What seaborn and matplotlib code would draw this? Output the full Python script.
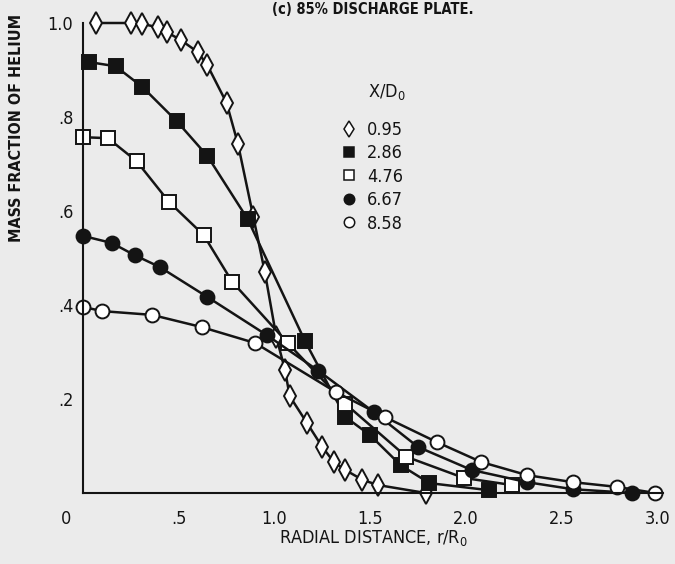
import matplotlib
matplotlib.use("Agg")
import matplotlib.pyplot as plt
from matplotlib.lines import Line2D
import seaborn as sns
import pandas as pd

# ---- data ----
x095 = [0.07, 0.25, 0.31, 0.39, 0.44, 0.51, 0.60, 0.65, 0.75, 0.81, 0.89, 0.95,
        1.01, 1.055, 1.08, 1.17, 1.25, 1.31, 1.37, 1.46, 1.54, 1.79]
y095 = [1.0, 1.0, 0.998, 0.991, 0.98, 0.964, 0.938, 0.91, 0.83, 0.742, 0.587, 0.47,
        0.332, 0.262, 0.206, 0.149, 0.098, 0.066, 0.049, 0.028, 0.017, 0.0]

x286 = [0.03, 0.17, 0.31, 0.49, 0.65, 0.86, 1.16, 1.37, 1.50, 1.66, 1.81, 2.12]
y286 = [0.917, 0.908, 0.864, 0.791, 0.717, 0.583, 0.323, 0.162, 0.123, 0.059, 0.021, 0.006]

x476 = [0.0, 0.13, 0.28, 0.45, 0.63, 0.78, 1.07, 1.37, 1.69, 1.99, 2.24]
y476 = [0.757, 0.755, 0.706, 0.619, 0.549, 0.449, 0.319, 0.19, 0.077, 0.032, 0.017]

x667 = [0.0, 0.15, 0.27, 0.40, 0.65, 0.96, 1.23, 1.52, 1.75, 2.03, 2.32, 2.56, 2.87]
y667 = [0.547, 0.532, 0.506, 0.481, 0.417, 0.336, 0.26, 0.172, 0.098, 0.049, 0.023, 0.008, 0.0]

x858 = [0.0, 0.10, 0.36, 0.62, 0.90, 1.32, 1.58, 1.85, 2.08, 2.32, 2.56, 2.79, 2.99]
y858 = [0.396, 0.387, 0.379, 0.353, 0.319, 0.215, 0.161, 0.108, 0.066, 0.038, 0.023, 0.013, 0.0]

series_labels = ["0.95", "2.86", "4.76", "6.67", "8.58"]
xticks = [0.5, 1.0, 1.5, 2.0, 2.5, 3.0]
xticklabels = [".5", "1.0", "1.5", "2.0", "2.5", "3.0"]
yticks = [0.2, 0.4, 0.6, 0.8, 1.0]
yticklabels = [".2", ".4", ".6", ".8", "1.0"]

BG = "#ebebeb"
INK = "#141414"

sns.set_theme(style="white")
plt.rcParams["font.family"] = ["DejaVu Sans"]
plt.rcParams["font.stretch"] = "condensed"

fig = plt.figure(figsize=(6.75, 5.64), dpi=100, facecolor=BG)
ax = fig.add_axes([83 / 675, 71 / 564, 580 / 675, 470 / 564])
ax.set_facecolor(BG)

styles = [
    (x095, y095, "d", "white", 11),
    (x286, y286, "s", INK, 9.5),
    (x476, y476, "s", "white", 9.5),
    (x667, y667, "o", INK, 10),
    (x858, y858, "o", "white", 10),
]

for (xs, ys, mk, fc, ms), lab in zip(styles, series_labels):
    df = pd.DataFrame({"r": xs, "f": ys})
    sns.lineplot(data=df, x="r", y="f", ax=ax, sort=False, color=INK, lw=1.8,
                 marker=mk, markersize=ms, markerfacecolor=fc,
                 markeredgecolor=INK, markeredgewidth=1.4, clip_on=False,
                 estimator=None, legend=False)

ax.set_xlim(0, 3.03)
ax.set_ylim(0, 1.0)
for s in ["top", "right"]:
    ax.spines[s].set_visible(False)
for s in ["left", "bottom"]:
    ax.spines[s].set_color(INK)
    ax.spines[s].set_linewidth(1.5)

ax.set_xticks(xticks)
ax.set_xticklabels(xticklabels)
ax.set_yticks(yticks)
ax.set_yticklabels(yticklabels)
ax.tick_params(axis="both", direction="in", length=18, width=1.3, color=INK,
               labelsize=13, labelcolor=INK)
ax.tick_params(axis="x", pad=12)
ax.tick_params(axis="y", pad=7)
ax.text(-0.02, -0.036, "0", transform=ax.transAxes, ha="right", va="top",
        fontsize=13, color=INK)

ax.set_xlabel(r"RADIAL DISTANCE, r/R$_\mathregular{0}$", fontsize=13, color=INK,
              labelpad=0)
ax.set_ylabel("")
fig.text(17 / 675, 1 - 242 / 564, "MASS FRACTION OF HELIUM", rotation=90,
         ha="center", va="bottom", fontsize=11.5, color=INK, fontweight="bold")
fig.text(373 / 675, 1 - 2 / 564, "(c) 85% DISCHARGE PLATE.", ha="center",
         va="top", fontsize=10.5, color=INK, fontweight="bold")

handles = []
for (xs, ys, mk, fc, ms) in styles:
    handles.append(Line2D([], [], linestyle="none", marker=mk, markersize=ms * 0.75,
                          markerfacecolor=fc, markeredgecolor=INK, markeredgewidth=1.1))
leg = ax.legend(handles, series_labels, loc="upper left",
                bbox_to_anchor=(0.428, 0.811), frameon=False,
                fontsize=13, handlelength=1.0,
                handletextpad=0.5, labelspacing=0.3, borderpad=0)
for t in leg.get_texts():
    t.set_color(INK)
ax.text((368 - 83) / 580, (493 - 92) / 470, r"X/D$_\mathregular{0}$",
        transform=ax.transAxes, ha="left", va="center", fontsize=13, color=INK)

fig.savefig("out.png", dpi=100, facecolor=BG)
